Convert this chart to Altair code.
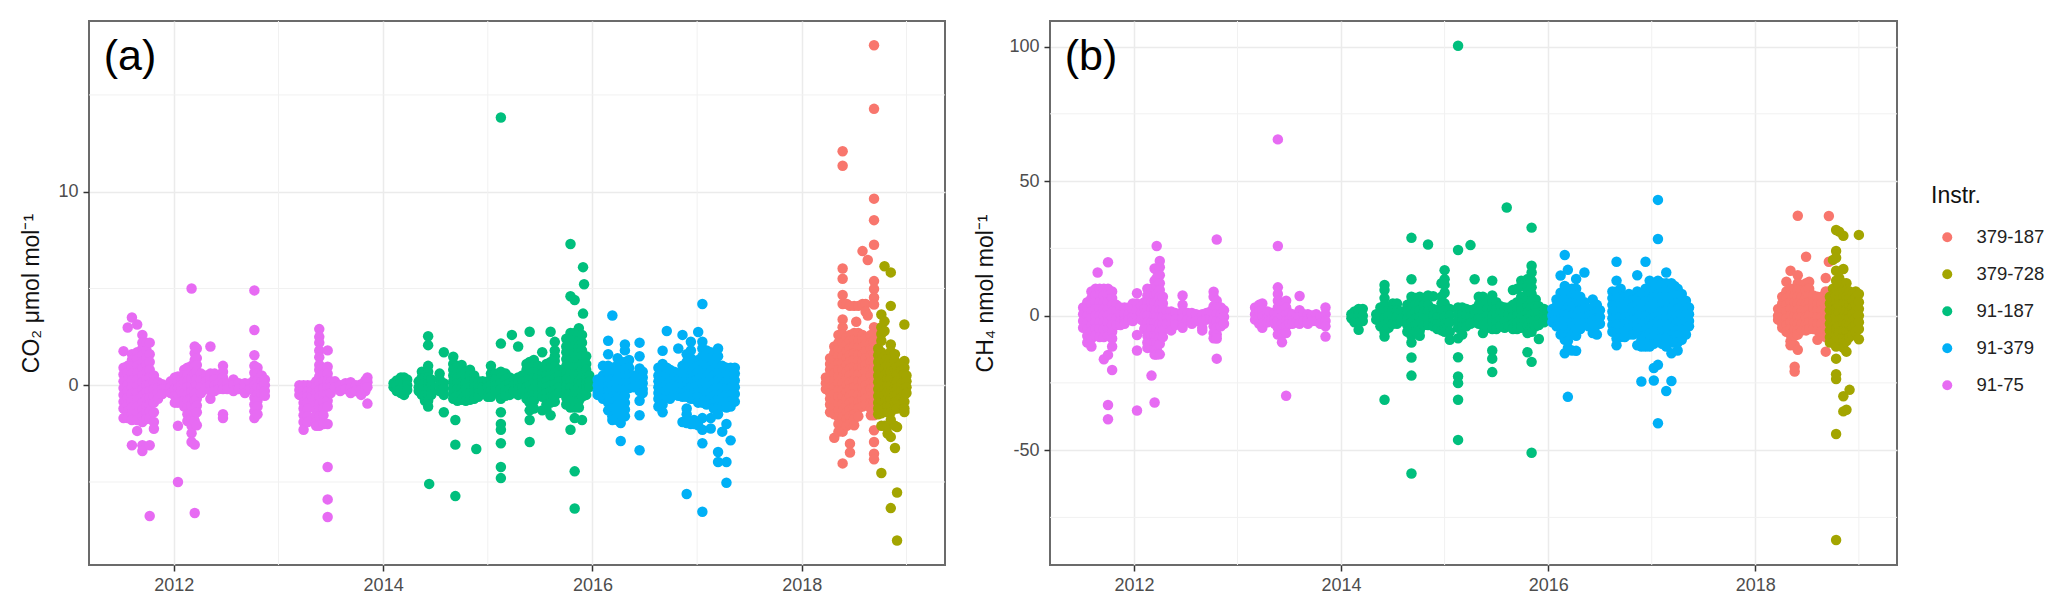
import altair as alt
import pandas as pd

SERIES = ["379-187", "379-728", "91-187", "91-379", "91-75"]
COLORS = ["#F8766D", "#A3A500", "#00BF7D", "#00B0F6", "#E76BF3"]
X_TICKS = [2012, 2014, 2016, 2018]
X_MINOR = [2013, 2015, 2017, 2019]
CO2_TICKS = [0, 10]
CO2_MINOR = [-5, 5, 15]
CH4_TICKS = [-50, 0, 50, 100]
CH4_MINOR = [-75, -25, 25, 75]

# Each entry: (year - 2000, [values read at that date])
CO2_91_75 = [
(11.52,[1.76,.9,.55,.2,-.15,-.5,-.85,-1.2,-1.7]),(11.56,[2.98,1.0,.65,.3,0,-.3,-.65,-1.0,-1.35,-1.7]),
(11.60,[3.5,1.6,1.3,.95,.6,.25,-.1,-.45,-.8,-1.15,-1.5,-1.8,-3.1]),(11.65,[3.14,1.7,1.35,1.0,.65,.3,-.05,-.4,-.75,-1.1,-1.45,-1.8,-2.36]),
(11.70,[2.6,2.2,1.9,1.55,1.2,.85,.5,.15,-.2,-.55,-.9,-1.25,-1.6,-1.9,-3.1,-3.4]),(11.74,[2.2,1.8,1.4,1.05,.7,.35,0,-.35,-.7,-1.05,-1.4,-1.75]),
(11.77,[2.2,1.6,1.2,.8,.4,.05,-.3,-.65,-1.0,-1.35,-1.7,-3.1,-6.76]),(11.81,[.5,.15,-.2,-.55,-.9,-1.4,-1.9,-2.25]),
(11.85,[.15,-.1,-.4,-.7]),(11.89,[.05,-.2,-.45]),(11.97,[.2,-.1,-.4]),(12.01,[.4,.1,-.2,-.55,-.9]),
(12.04,[.45,.15,-.15,-.5,-.9,-2.1,-5.0]),(12.07,[.3,0,-.3]),(12.10,[.8,.5,.2,-.1,-.4,-.8,-1.1]),
(12.13,[.9,.55,.2,-.1,-.45,-.8,-1.15,-1.5,-1.85]),(12.17,[5.0,1.0,.7,.35,0,-.35,-.7,-1.05,-1.4,-1.75,-2.1,-2.48,-2.93]),
(12.20,[2.0,1.65,1.3,.95,.6,.25,-.1,-.45,-.8,-1.15,-1.5,-1.85,-3.07,-6.6]),(12.22,[1.9,1.4,1.05,.7,.35,0,-.35,-.7,-1.05,-1.4,-2.07]),
(12.26,[.6,.25,-.1,-.4]),(12.31,[.5,.2,-.1]),(12.35,[2.0,.6,.3,0,-.3,-.7]),(12.39,[.6,.3,0,-.3]),(12.43,[.1,-.2]),
(12.47,[1.0,.7,.4,.1,-.2,-1.5,-1.7]),(12.51,[.1,-.2]),(12.57,[.3,0,-.3]),(12.62,[.1,-.2]),(12.68,[.1,-.1,-.4]),(12.73,[.1,-.2]),
(12.77,[4.9,2.85,1.55,1.0,.65,.3,0,-.3,-.65,-1.0,-1.35,-1.7]),(12.80,[.9,.6,.25,-.1,-.45,-.8,-1.1,-1.5]),(12.84,[.5,.2,-.1,-.45]),(12.87,[.3,0,-.3,-.55]),
(13.20,[0,-.25,-.5]),(13.24,[0,-.3,-.6,-.9,-1.2,-1.55,-1.9,-2.3]),(13.28,[0,-.3,-.6,-.9,-1.2,-1.6,-1.9]),(13.32,[0,-.3,-.6]),
(13.36,[.2,-.1,-.4,-.7,-1.0,-1.3,-1.6,-1.9,-2.1]),(13.39,[2.9,2.5,2.2,1.8,1.45,1.05,.8,.45,.1,-.25,-.6,-.95,-1.3,-1.6,-2.1]),
(13.43,[.9,.55,.2,-.15,-.5,-.85,-1.2,-1.55,-2.0]),(13.47,[1.8,.95,.6,.25,-.1,-.45,-.8,-1.1,-2.0,-4.23,-5.9,-6.81]),(13.50,[.2,-.1,-.4]),(13.54,[.2,-.1]),
(13.59,[0,-.3]),(13.64,[.1,-.2]),(13.69,[.15,-.15,-.4]),(13.74,[0,-.3]),(13.79,[.05,-.25,-.5]),(13.83,[.25,0,-.3]),(13.85,[.4,.15,-.1,-.95]),
]
CO2_91_187 = [
(14.10,[-.1,.1]),(14.13,[.25,0,-.3]),(14.17,[.4,.1,-.2,-.4]),(14.20,[.4,.1,-.2,-.5]),(14.23,[.3,0,-.25]),
(14.34,[.2,-.1,-.3]),(14.37,[.7,.4,.1,-.2,-.5]),(14.40,[.7,.4,.1,-.2,-.5,-.8]),(14.43,[2.53,2.07,1.0,.7,.4,.1,-.2,-.5,-.8,-1.1]),(14.44,[-5.1]),
(14.46,[.3,0,-.3,-.5]),(14.54,[.6,.3,0,-.3]),(14.58,[1.7,.1,-.2,-.5,-1.4]),(14.67,[1.47,1.1,.8,.5,.2,-.1,-.4,-.7]),(14.69,[-1.8,-3.07,-5.73]),
(14.71,[1.0,.7,.4,.1,-.2,-.5,-.8]),(14.75,[1.05,.75,.45,.15,-.15,-.45,-.75]),(14.79,[.7,.4,.1,-.2,-.5,-.8]),(14.83,[.8,.5,.2,-.1,-.4,-.75]),
(14.87,[.5,.2,-.1,-.4,-.7]),(14.89,[-3.3]),(14.91,[.2,-.1,-.4,-.6]),(14.95,[.2,-.1,-.3]),(15.00,[.2,-.1,-.4,-.6]),(15.03,[1.0,.6,.3,0,-.3,-.6]),(15.07,[.6,.3,0,-.3]),
(15.125,[13.83,2.15,.7,.4,.1,-.2,-.5,-.7,-1.4,-2.0,-2.3,-3.0,-4.23,-4.8]),(15.17,[.6,.3,0,-.3,-.55]),(15.21,[.4,.1,-.2,-.5]),(15.23,[2.6]),(15.25,[.3,0,-.3]),
(15.29,[2.0,.4,.1,-.2,-.5]),(15.33,[.5,.2,-.1,-.4]),(15.37,[1.1,.8,.5,.2,-.1,-.4,-.7]),(15.40,[2.76,1.2,.9,.6,.3,0,-.3,-.6,-.9,-1.3,-1.8,-2.93]),
(15.44,[1.3,1.0,.7,.4,.1,-.2,-.5,-.8,-1.2]),(15.48,[1.0,.7,.4,.1,-.2,-.5]),(15.52,[1.7,.9,.6,.3,0,-.3,-.6,-1.3]),(15.56,[1.1,.8,.5,.2,-.1,-.4,-.7,-1.0,-1.25]),
(15.60,[2.76,1.2,.9,.6,.3,0,-.3,-.6,-.9,-1.55]),(15.64,[2.24,1.8,1.5,1.25,.95,.65,.35,.05,-.25,-.55,-.85]),(15.68,[.8,.5,.2,-.1,-.4]),
(15.75,[2.4,2.0,1.7,1.35,1.0,.65,.3,0,-.3,-.65,-1.0]),(15.79,[7.3,4.6,2.7,2.35,2.0,1.65,1.3,.95,.6,.25,-.1,-.45,-.8,-1.15,-2.3]),
(15.83,[4.4,2.7,2.35,2.0,1.65,1.3,.95,.6,.25,-.1,-.45,-.8,-1.15,-1.7,-4.45,-6.37]),(15.87,[2.95,2.7,2.3,2.0,1.65,1.3,.95,.6,.25,-.1,-.45,-.8,-1.15]),
(15.90,[2.6,2.2,1.8,1.5,1.1,.8,.4,.1,-.3,-.6,-1.8]),(15.91,[6.1,3.7]),(15.92,[5.22]),(15.94,[1.5,1.1,.8,.4,.1,-.2,-.5]),(15.97,[.5,.2,-.1]),
]
CO2_91_379 = [
(16.05,[.3,0,-.3,-.5]),(16.10,[1.0,.5,.2,-.1,-.4,-.7]),(16.15,[2.3,1.6,1.0,.65,.3,0,-.3,-.6,-.9,-1.3]),(16.19,[3.6,.9,.6,.3,0,-.3,-.6,-.9,-1.2,-1.6,-1.8]),
(16.24,[1.4,1.05,.7,.35,0,-.35,-.7,-1.05,-1.4,-1.8]),(16.27,[1.2,.85,.5,.15,-.2,-.55,-.9,-1.25,-1.6,-1.95,-2.88]),(16.31,[2.1,1.8,1.2,.85,.5,.15,-.2,-.55,-.9,-1.25,-1.6]),
(16.35,[1.3,.9,.55,.2,-.15]),(16.39,[.5,.2,-.1]),(16.45,[2.2,1.5,.86,.6,.3,0,-.3,-.8,-1.55,-3.36]),(16.48,[.7,.4,.1,-.2,-.4]),
(16.63,[.9,.5,.2,-.1,-.4,-.7,-1.1]),(16.67,[1.78,1.1,.8,.5,.2,-.1,-.4,-.7,-1.0,-1.4]),(16.71,[2.8,.9,.6,.3,0,-.3,-.6]),(16.74,[.8,.5,.2,-.1,-.4,-.7]),
(16.78,[.7,.4,.1,-.2,-.5]),(16.82,[1.9,.6,.3,0,-.3,-.55]),(16.86,[2.6,1.0,.6,.3,0,-.3,-.6,-1.9]),(16.90,[1.6,1.2,.9,.6,.3,0,-.3,-.6,-1.2,-1.5,-1.95,-5.62]),
(16.94,[2.25,1.8,1.4,1.1,.8,.5,.2,-.1,-.4,-.7,-2.0]),(16.97,[1.2,.85,.5,.2,-.1,-.4,-.7,-1.8,-2.0]),(17.01,[2.75,1.3,1.0,.65,.3,0,-.3,-.6,-.9,-2.07]),
(17.05,[4.2,2.25,1.9,1.5,1.15,.8,.45,.1,-.25,-.6,-.9,-1.7,-2.3,-3.0,-6.54]),(17.09,[1.8,1.5,1.1,.75,.4,.05,-.3,-.65,-1.0]),(17.13,[1.7,1.4,1.0,.65,.3,-.05,-.4,-.7,-1.7,-2.24]),
(17.16,[1.2,.85,.5,.15,-.2,-.55,-.9,-1.2]),(17.20,[1.9,1.5,1.0,.65,.3,-.05,-.4,-.75,-1.1,-1.5,-3.45,-3.97]),(17.24,[1.0,.65,.3,-.05,-.4,-.75,-1.1,-2.4]),
(17.28,[.9,.55,.2,-.15,-.5,-.85,-1.15,-2.0,-3.97,-5.04]),(17.32,[.9,.55,.2,-.15,-.5,-.85,-1.1,-2.85]),(17.36,[.9,.6,.25,-.1,-.45,-.85]),
]
CO2_379_187 = [
(18.23,[.4,.1,-.2]),(18.27,[1.4,1.1,.8,.5,.2,-.1,-.4,-.7,-1.0,-1.4]),(18.31,[2.0,1.65,1.3,.95,.6,.25,-.1,-.45,-.8,-1.15,-1.5,-2.72]),
(18.35,[2.6,2.2,1.85,1.5,1.15,.8,.45,.1,-.25,-.6,-.95,-1.3,-1.65,-2.0,-2.4]),
(18.39,[12.09,11.34,6.03,5.5,4.66,4.2,3.4,3.0,2.6,2.2,1.85,1.5,1.15,.8,.45,.1,-.25,-.6,-.95,-1.3,-1.65,-2.0,-2.4,-4.04]),
(18.43,[4.2,2.5,2.1,1.75,1.4,1.05,.7,.35,0,-.35,-.7,-1.05,-1.4,-1.75,-2.1]),(18.46,[4.1,2.6,2.3,1.9,1.55,1.2,.85,.5,.15,-.2,-.55,-.9,-1.25,-1.6,-2.0,-3.02,-3.48]),
(18.50,[4.1,2.7,2.35,2.0,1.65,1.3,.95,.6,.25,-.1,-.45,-.8,-1.15,-1.5,-1.75,-2.07]),(18.52,[3.28]),(18.54,[4.1,2.7,2.3,1.95,1.6,1.25,.9,.55,.2,-.15,-.5,-.85,-1.2,-1.6]),
(18.58,[6.93,4.2,2.6,2.3,1.95,1.6,1.25,.9,.55,.2,-.15,-.5,-.8,-1.1]),(18.61,[4.2,3.8,2.4,2.1,1.75,1.4,1.05,.7,.35,0,-.35,-.7,-1.0]),(18.63,[6.47,3.6]),
(18.66,[2.6,2.2,1.9,1.55,1.2,.85,.5,.15,-.2,-.55,-.9,-1.2,-1.55]),
(18.69,[17.57,14.28,9.64,8.53,7.26,5.38,4.97,4.53,4.17,3.0,2.65,2.3,1.95,1.6,1.25,.9,.55,.2,-.15,-.5,-.85,-1.2,-1.55,-2.33,-2.93,-3.54,-3.83]),
]
CO2_379_728 = [
(18.73,[1.9,1.55,1.2,.85,.5,.15,-.2,-.55,-.9,-1.2,-1.5]),(18.76,[3.65,3.0,2.65,2.3,1.7,1.3,.95,.6,.25,-.1,-.45,-.8,-1.15,-1.45,-2.1,-4.54]),
(18.79,[6.15,3.3,2.8,1.5,1.2,.85,.5,.15,-.2,-.55,-.9,-1.2,-2.1]),(18.82,[1.4,1.05,.7,.35,0,-.35,-.7,-1.05,-1.4,-2.1,-2.5]),
(18.85,[5.83,4.1,2.1,1.75,1.4,1.05,.7,.35,0,-.35,-.7,-1.05,-1.4,-1.8,-2.67,-6.35]),(18.89,[1.6,1.25,.9,.55,.2,-.15,-.5,-.85,-1.2,-2.1,-3.24]),
(18.91,[.9,.55,.2,-.15,-.5,-.85,-1.2,-2.16,-5.54,-8.02]),(18.95,[1.1,.75,.4,.05,-.3,-.65,-1.0]),(18.98,[3.14,1.25,.9,.55,.2,-.15,-.5,-.85,-1.2,-1.38]),(19.00,[.5,.2,-.1,-.4]),
]
CH4_91_75 = [
(11.51,[3,.5,-2,-4.5]),(11.55,[5,2.5,0,-2.5,-5,-7.5,-10]),(11.59,[9,6.5,4,1.5,-1,-3.5,-6,-8.5,-11.5]),(11.63,[10,7.5,5,2.5,0,-2.5,-5,-7.5]),(11.65,[16]),
(11.67,[10,7.5,5,2.5,0,-2.5,-5,-8]),(11.71,[10,7.5,5,2.5,0,-2.5,-5,-8,-16.2]),(11.75,[19.8,10,7.5,5,2.5,0,-2.5,-5,-7.5,-14.6,-33.2,-38.5]),
(11.79,[9,6.5,4,1.5,-1,-3.5,-6,-8.5,-11.5,-20.2]),(11.83,[4,1.5,-1,-3.5]),(11.87,[3,.5,-2,-3.5]),(11.91,[3,.5,-2,-3]),(11.95,[3,.5,-1.5]),(11.99,[4.5,2,-.5,-2]),
(12.03,[8.3,4.5,2,-.5,-7.2,-13,-35.3]),(12.07,[3.5,1,-1.5]),(12.10,[5,2.5,0,-2.5,-5]),(12.13,[10,7.5,5,2.5,0,-2.5,-5,-7.5,-10,-12]),(12.17,[10,7.5,5,2.5,0,-2.5,-5,-7.5,-10,-12,-22.3]),
(12.20,[17.5,13,10,7.5,5,2.5,0,-2.5,-5,-7.5,-10,-12.5,-14.5,-32.3]),(12.22,[25.9,17,14,11,8,5,2.5,0,-2.5,-5,-7.5,-10,-12.5,-14.5]),(12.25,[20.3,18,15,12,9.5,7,4.5,2,-.5,-3,-5.5,-8,-10.5,-14.4]),
(12.28,[7,4.5,2,-.5,-3,-5.5,-8]),(12.32,[1.5,-1,-3]),(12.36,[1.5,-1,-3.5,-5.5]),(12.40,[1,-1.5,-3.5]),(12.47,[7.5,4,1.5,-1,-3.5,-4.5]),(12.52,[1,-1.5]),(12.56,[1,-1.5,-3]),
(12.60,[.5,-2]),(12.66,[.5,-2,-4.5,-5.5]),(12.70,[1,-1.5]),(12.74,[1.5,-1]),(12.77,[8.9,7,3.5,1,-1.5,-4,-6.5,-8.4]),(12.80,[28.3,5.5,3,.5,-2,-4.5,-7,-8.5,-16]),(12.84,[3,.5,-2,-4]),(12.87,[2,-.5,-3]),
(13.17,[3,.5,-1.5]),(13.21,[4,1.5,-1,-3]),(13.24,[4.5,2,-.5,-3,-4.5]),(13.29,[1.5,-1,-2.5]),(13.33,[1,-1.5]),(13.36,[1,-1.5,-3]),(13.39,[65.5,25.9,10.5,8,5.5,3,.5,-2,-4.5,-7]),
(13.43,[4.5,2,-.5,-3,-5,-7,-9.9]),(13.47,[5.5,3,.5,-2,-4,-6.5,-29.8]),(13.50,[1,-1.5,-3]),(13.53,[.5,-2,-3]),(13.57,[0,-2.5]),(13.60,[7.3,2,-.5,-3]),(13.64,[.5,-2]),(13.68,[.5,-1.5,-3]),
(13.72,[0,-2]),(13.76,[.5,-2]),(13.80,[-.5,-3]),(13.85,[3,.5,-2,-4,-7.8]),
]
CH4_91_187 = [
(14.10,[.5,-1]),(14.13,[1.5,-.5,-2.5]),(14.17,[2.5,0,-2.5,-5.3]),(14.21,[2.5,0,-2]),(14.34,[.5,-1.5]),(14.38,[3,.5,-2,-4]),(14.42,[11.4,9.5,6.5,4,1.5,-1,-3.5,-6,-7.8,-31.3]),
(14.46,[2.5,0,-2.5,-4.5]),(14.50,[4.5,2,-.5,-3]),(14.54,[4.5,2,-.5,-3]),(14.58,[1.5,-1,-2]),(14.64,[4,1.5,-1,-3.5,-6]),(14.68,[28.9,13.5,7,5,2.5,0,-2.5,-5,-7.5,-10,-15.6,-22.3,-58.7]),
(14.72,[6.5,4,1.5,-1,-3.5,-6]),(14.76,[7,4.5,2,-.5,-3,-5.5,-7.5]),(14.80,[6.5,4,1.5,-1,-3.5]),(14.84,[26.4,7.5,4,1.5,-1,-3.5]),(14.89,[7.2,2.5,0,-2.5,-4]),(14.93,[2,-.5,-3,-5]),
(14.97,[12,7,4.5,2,-.5,-3,-5.5]),(15.00,[16.9,13.5,11.5,8.5,4.5,2,-.5,-3,-5,-6]),(15.05,[2.5,0,-2.5,-6,-9]),(15.13,[100.3,24.4,3,.5,-2,-4.5,-8.4,-15.5,-22.6,-25.1,-31.3,-46.2]),
(15.17,[3,.5,-2,-4,-7]),(15.21,[2.5,0,-2.5,-4]),(15.25,[26.2,2,-.5,-3]),(15.29,[13.5,2.5,0,-2.5]),(15.33,[7,4,1.5,-1,-3]),(15.37,[7,4,1.5,-1,-3.5,-6.5]),(15.41,[5,2.5,0,-2.5,-4.5]),
(15.46,[13,7.5,5,2.5,0,-2.5,-5,-13,-16,-21]),(15.50,[5,2.5,0,-2.5,-5]),(15.54,[3.5,1,-1.5,-4]),(15.58,[3,.5,-2,-4.5]),(15.60,[40.2]),(15.62,[3,.5,-2,-4]),(15.66,[9.5,4,2,-.5,-3,-5]),
(15.70,[10,5,2.5,0,-2.5,-5]),(15.74,[13,11,7,4.5,2,-.5,-3,-4.5]),(15.80,[13.5,11,8.5,6,3.5,1,-1.5,-4,-6.5,-13.6]),(15.84,[32.7,18.5,16,13,10.5,8,5.5,3,.5,-2,-4.5,-6,-17.2,-51]),
(15.88,[6,3.5,1,-1.5,-4]),(15.91,[3.5,1,-1.5,-3.5,-8.7]),(15.96,[2.5,0,-2.5]),(15.99,[1.5,-1]),
]
CH4_91_379 = [
(16.04,[2.5,0,-2.5]),(16.08,[6,3.5,1,-1.5,-4]),(16.12,[14.9,8.5,6,3.5,1,-1.5,-4,-7]),(16.16,[22.5,11,8.5,6,3.5,1,-1.5,-4,-6.5,-9,-14]),(16.19,[17,10,8,5.5,3,.5,-2,-4.5,-7,-9.5,-12,-30.2]),
(16.23,[10,7.5,5,2.5,0,-2.5,-5,-7,-13]),(16.27,[13.6,10,7.5,5,2.5,0,-2.5,-5,-7.5,-13.1]),(16.31,[7,4.5,2,-.5,-3,-5]),(16.35,[16,5,2.5,0,-2.5]),(16.39,[2.5,0,-2.5,-4]),
(16.43,[6,3,.5,-2,-4.5,-6.5]),(16.47,[4,1.5,-1,-3.5,-7]),(16.50,[2,-.5,-3]),(16.62,[9,6.5,4,1.5,-1,-3.5,-6]),(16.66,[20,13,9,6.5,4,1.5,-1,-3.5,-6,-8.5,-11]),(16.70,[10,7,4.5,2,-.5,-3,-5.5,-8]),
(16.74,[7,4.5,2,-.5,-3,-5.5,-8]),(16.78,[8,5.5,3,.5,-2,-4.5,-7]),(16.82,[6,3.5,1,-1.5,-4,-7]),(16.86,[15,9,6.5,4,1.5,-1,-3.5,-6,-11]),(16.90,[8,5.5,3,.5,-2,-4.5,-7,-9,-11.5,-24.5]),
(16.94,[20,10,7.5,5,2.5,0,-2.5,-5,-7.5,-10,-11.5]),(16.98,[13,10.5,8,5.5,3,.5,-2,-4.5,-7,-9.5,-11.5]),(17.02,[12,9.5,7,4.5,2,-.5,-3,-5.5,-8,-10.5,-19.5,-24.1]),
(17.06,[43,28.5,13,10.5,8,5.5,3,.5,-2,-4.5,-7,-9.5,-18.3,-40]),(17.10,[12,9.5,7,4.5,2,-.5,-3,-5.5,-8,-10.5]),(17.14,[16,12,9.5,7,4.5,2,-.5,-3,-5.5,-8,-10.5,-11.5,-28]),
(17.19,[12,9.5,7,4.5,2,-.5,-3,-5.5,-8,-10,-14,-24.3]),(17.22,[11,8.5,6,3.5,1,-1.5,-4,-6.5,-9,-10]),(17.25,[10,7.5,5,2.5,0,-2.5,-5,-7.5,-10,-13]),(17.29,[8,5.5,3,.5,-2,-4.5,-7,-9]),
(17.33,[5.5,3,.5,-2,-4.5,-7]),(17.36,[3,.5,-2,-4]),
]
CH4_379_187 = [
(18.22,[2.5,0,-1.5]),(18.26,[7,4.5,2,-.5,-3,-4.5]),(18.30,[12.6,9,6.5,4,1.5,-1,-3.5,-6]),(18.34,[16.7,10,7.5,5,2.5,0,-2.5,-5,-7,-9.5,-11]),(18.38,[10,7.5,5,2.5,0,-2.5,-5,-7.5,-11,-19,-20.8]),
(18.41,[37.1,15,12,9.5,7,4.5,2,-.5,-3,-5.5,-7,-12.7]),(18.45,[9.5,7,4.5,2,-.5,-3,-5.5]),(18.49,[21.9,12,9.5,7,4.5,2,-.5,-3,-5.5]),(18.52,[12.6,10,7.5,5,2.5,0,-2.5,-5]),(18.56,[7.5,5,2.5,0,-2.5,-5]),
(18.60,[7,4.5,2,-.5,-3,-5.5,-9]),(18.64,[7,4.5,2,-.5,-3,-6]),(18.68,[14,9,6.5,4,1.5,-1,-3.5,-6,-8,-13.4]),(18.71,[37,20,9,6.5,4,1.5,-1,-3.5,-6,-8]),
]
CH4_379_728 = [
(18.72,[7,4.5,2,-.5,-3,-5.5,-8,-10]),(18.75,[20.7,10,7.5,5,2.5,0,-2.5,-5,-7.5,-10]),(18.78,[31.8,24,21.5,16.7,13,10,7.5,5,2.5,0,-2.5,-5,-7.5,-11.5,-16,-21.8,-23.6,-44,-83.4]),
(18.81,[31.2,14,11,8.5,6,3.5,1,-1.5,-4,-6.5,-9]),(18.85,[29.7,17.3,12,9.5,7,4.5,2,-.5,-3,-5.5,-9,-12,-30,-35.6]),(18.88,[12,9.5,7,4.5,2,-.5,-3,-5.5,-9.5,-13.4,-35]),
(18.91,[9,6.5,4,1.5,-1,-3.5,-6,-8,-27.6]),(18.94,[8,5.5,3,.5,-2,-4.5,-7]),(18.97,[9,6.5,4,1.5,-1,-3.5,-6]),(19.00,[30,8,5,2.5,0,-2.5,-5,-8.8]),
]

FONT = "Liberation Sans"


def table(groups):
    rows = []
    for name, cols in groups:
        for year, values in cols:
            for v in values:
                rows.append({"year": 2000 + year, "value": v, "instr": name})
    return pd.DataFrame(rows)


def panel(df, letter, title, y_domain, y_ticks, y_minor, width, title_pad, legend):
    xs = alt.Scale(domain=[2011.19, 2019.368], nice=False, zero=False)
    ys = alt.Scale(domain=y_domain, nice=False, zero=False)
    vminor = alt.Chart(pd.DataFrame({"x": X_MINOR})).mark_rule(color="#f1f1f1", strokeWidth=1).encode(
        x=alt.X("x:Q", scale=xs))
    hminor = alt.Chart(pd.DataFrame({"y": y_minor})).mark_rule(color="#f1f1f1", strokeWidth=1).encode(
        y=alt.Y("y:Q", scale=ys))
    pts = alt.Chart(df).mark_circle(size=110, opacity=1).encode(
        x=alt.X("year:Q", scale=xs, title=None,
                axis=alt.Axis(values=X_TICKS, format="d", labelFontSize=18, labelColor="#4d4d4d",
                              tickColor="#333333", tickSize=6, tickWidth=1.5, labelPadding=5,
                              grid=True, gridColor="#ebebeb", gridWidth=1.5, domain=False,
                              labelFont=FONT, labelFlush=False)),
        y=alt.Y("value:Q", scale=ys, title=title,
                axis=alt.Axis(values=y_ticks, labelExpr="'' + datum.value", labelFontSize=18, labelColor="#4d4d4d",
                              tickColor="#333333", tickSize=6, tickWidth=1.5, labelPadding=5,
                              grid=True, gridColor="#ebebeb", gridWidth=1.5, domain=False,
                              labelFont=FONT, titleFont=FONT, titleFontSize=23, titleFontWeight="normal",
                              titleColor="#111111", titlePadding=title_pad)),
        color=alt.Color("instr:N", scale=alt.Scale(domain=SERIES, range=COLORS), legend=legend),
    )
    tag = alt.Chart(pd.DataFrame({"t": [letter]})).mark_text(
        fontSize=43, font=FONT, color="black", baseline="middle", align="center"
    ).encode(text="t:N", x=alt.value(41), y=alt.value(36))
    return alt.layer(vminor, hminor, pts, tag).properties(width=width, height=544)


df_a = table([("91-75", CO2_91_75), ("91-187", CO2_91_187), ("91-379", CO2_91_379),
              ("379-187", CO2_379_187), ("379-728", CO2_379_728)])
df_b = table([("91-75", CH4_91_75), ("91-187", CH4_91_187), ("91-379", CH4_91_379),
              ("379-187", CH4_379_187), ("379-728", CH4_379_728)])

legend = alt.Legend(title="Instr.", orient="none", legendX=881, legendY=164,
                    titleFont=FONT, labelFont=FONT, titleFontSize=23, labelFontSize=18.5,
                    titleFontWeight="normal", titleColor="#111111", labelColor="#222222",
                    symbolSize=100, symbolType="circle", rowPadding=18, titlePadding=20, columnPadding=20,
                    labelOffset=20, symbolOffset=7)

a = panel(df_a, "(a)", "CO₂ μmol mol⁻¹", [-9.29, 18.82], CO2_TICKS, CO2_MINOR, 856, 14, None)
b = panel(df_b, "(b)", "CH₄ nmol mol⁻¹", [-92.7, 109.5], CH4_TICKS, CH4_MINOR, 847, 11, legend)

chart = alt.hconcat(a, b, spacing=26).resolve_scale(color="independent").properties(
    padding={"left": 11, "top": 11, "right": 5, "bottom": 5}, background="white"
).configure_view(stroke="#6b6b6b", strokeWidth=2)

chart.save("out.html", embed_options={"renderer": "svg", "actions": False})
